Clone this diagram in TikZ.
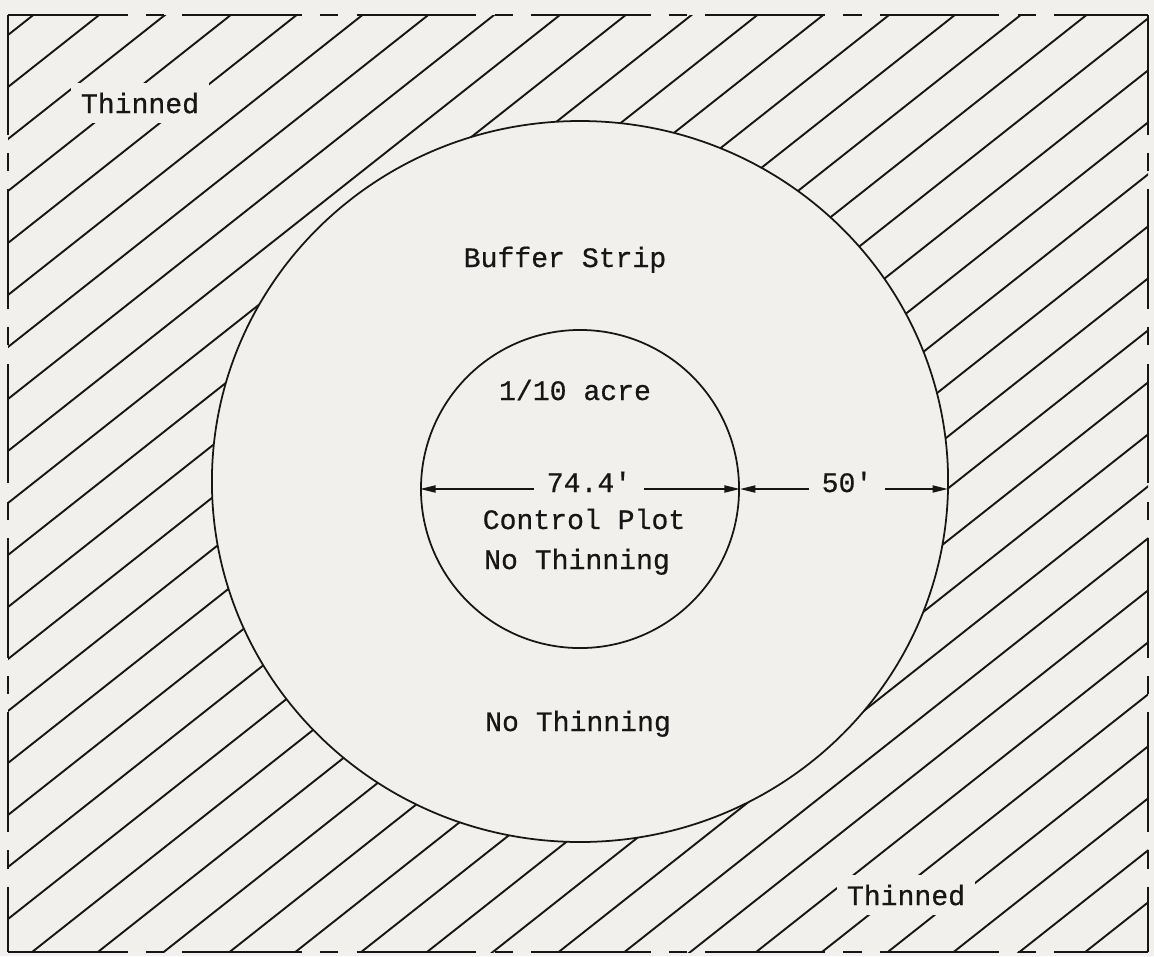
\documentclass[tikz,border=0pt]{standalone}
\usepackage{fontspec}
\newfontfamily\typewriter[FakeBold=0.6]{Liberation Mono}
\usetikzlibrary{arrows.meta,shapes.geometric}
\definecolor{paper}{RGB}{241,240,236}
\definecolor{ink}{RGB}{22,22,22}
\begin{document}
\begin{tikzpicture}[x=0.025cm,y=-0.025cm,
  hatchline/.style={ink, line width=1.35pt},
  border/.style={ink, line width=1.9pt, dash pattern=on 85pt off 13pt on 13pt off 13pt},
  ring/.style={draw=ink, line width=1.25pt, fill=paper, inner sep=0pt},
  lbl/.style={font=\typewriter\fontsize{20}{24}\selectfont, text=ink, inner sep=1pt, anchor=base},
  gaplbl/.style={lbl, fill=paper, inner sep=7pt},
  dimlbl/.style={lbl, fill=paper, inner xsep=9pt, inner ysep=3pt},
  dimline/.style={ink, line width=1.25pt, {Triangle[length=11pt,width=5pt]}-{Triangle[length=11pt,width=5pt]}}
]
\fill[paper] (0,0) rectangle (1154,956);
\useasboundingbox (0,0) rectangle (1154,956);
\coordinate (tl) at (8,15);
\coordinate (tr) at (1148,15);
\coordinate (br) at (1148,952);
\coordinate (bl) at (8,952);
% hatching
\begin{scope}
  \clip (tl) rectangle (br);
  \foreach \k in {-1,...,38}
    \draw[hatchline] (-392, 35+52*\k+316) -- (1608, 35+52*\k-1264);
\end{scope}
% dashed boundary
\draw[border] (tl) -- (tr);
\draw[border] (tr) -- (br);
\draw[border] (bl) -- (br);
\draw[border] (tl) -- (bl);
% buffer strip and control plot
\node[ring, ellipse, minimum width=18.4cm, minimum height=18.02cm] (outer) at (580,481.5) {};
\node[ring, circle, minimum size=7.95cm] (inner) at (580,489) {};
\coordinate (r50) at (948,489);
% dimension lines
\draw[dimline] (inner.west) -- (inner.east);
\draw[dimline] (inner.east) -- (r50);
\node[dimlbl] (d744) at (589,492) {74.4'};
\node[dimlbl] (d50) at (847,492) {50'};
% labels
\node[lbl] (buffer) at (565,267) {Buffer Strip};
\node[lbl] (acre) at (575,400) {1/10 acre};
\node[lbl] (control) at (584,529) {Control Plot};
\node[lbl] (nothin1) at (577,569) {No Thinning};
\node[lbl] (nothin2) at (578,731) {No Thinning};
\node[gaplbl] (thin1) at (140,113) {Thinned};
\node[gaplbl] (thin2) at (906,905) {Thinned};
\end{tikzpicture}
\end{document}
